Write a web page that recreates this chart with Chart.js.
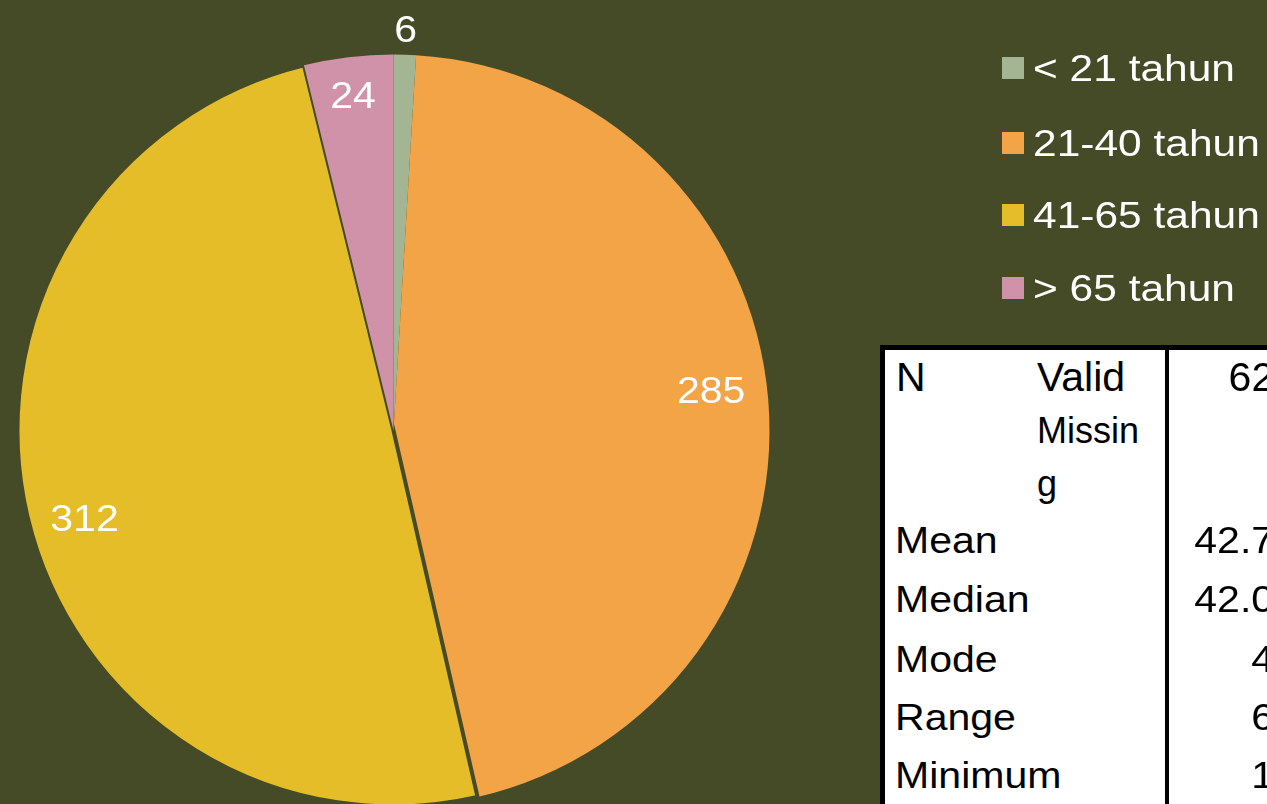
<!DOCTYPE html>
<html>
<head>
<meta charset="utf-8">
<title>Kelompok umur</title>
<script src="https://cdn.jsdelivr.net/npm/chart.js@4/dist/chart.umd.min.js"></script>
<style>
  html, body {
    margin: 0;
    padding: 0;
    width: 1267px;
    height: 804px;
    overflow: hidden;
    background: #454b27;
    font-family: "Liberation Sans", Arial, sans-serif;
  }
  #wrap { position: absolute; left: 0; top: 0; width: 1267px; height: 830px; }
  .swatch { position: absolute; left: 1002px; width: 22px; height: 22px; }
  .txt {
    position: absolute;
    white-space: nowrap;
    transform-origin: left top;
  }
  #stats {
    position: absolute;
    left: 880px;
    top: 345px;
    width: 440px;
    height: 520px;
    background: #ffffff;
    border: 5px solid #000000;
    box-sizing: border-box;
  }
  #stats-divider {
    position: absolute;
    left: 1165px;
    top: 345px;
    width: 4px;
    height: 520px;
    background: #000000;
  }
</style>
</head>
<body>
<div id="wrap"><canvas id="ageChart"></canvas></div>
<div id="legend"></div>
<div id="stats"></div>
<div id="stats-divider"></div>
<div id="stats-text"></div>

<script>
// data
const ageGroups = ['< 21 tahun', '21-40 tahun', '41-65 tahun', '> 65 tahun'];
const respondentCounts = [6, 285, 312, 24];
const sliceColors = ['#a4b594', '#f2a446', '#e4bd28', '#d092a8'];

// SPSS statistics table (values column is cut off by the page edge)
const statNames = ['Mean', 'Median', 'Mode', 'Range', 'Minimum'];
const statValues = ['42.74', '42.00', '40', '62', '17'];
const validN = '627';
const missingN = '0';

const bgColor = '#454b27';
const TEXT_STRETCH = 1.14; // text in the picture is drawn a bit wide
const LEGEND_STRETCH = 1.18;

//  place a line of text so that its baseline lands on y
function placeText(parent, html, x, baseline, size, opts) {
  opts = opts || {};
  const lineH = opts.lineHeight || size;
  const el = document.createElement('div');
  el.className = 'txt';
  el.innerHTML = html;
  el.style.fontSize = size + 'px';
  el.style.lineHeight = lineH + 'px';
  el.style.color = opts.color || '#000';
  // Liberation Sans: ascent .905, descent .212
  const baseOffset = (lineH - size * 1.117) / 2 + size * 0.905;
  el.style.top = (baseline - baseOffset) + 'px';
  const sx = opts.stretch === undefined ? TEXT_STRETCH : opts.stretch;
  if (opts.right) {
    el.style.left = '0px';
    el.style.width = x + 'px';
    el.style.textAlign = 'right';
    el.style.transformOrigin = 'right top';
  } else {
    el.style.left = x + 'px';
  }
  el.style.transform = 'scaleX(' + sx + ')';
  parent.appendChild(el);
}

// legend
const legendEl = document.getElementById('legend');
const legendRows = [68, 143, 215, 288];
ageGroups.forEach((label, i) => {
  const sw = document.createElement('div');
  sw.className = 'swatch';
  sw.style.top = (legendRows[i] - 11) + 'px';
  sw.style.background = sliceColors[i];
  legendEl.appendChild(sw);
  placeText(legendEl, label.replace('<', '&lt;').replace('>', '&gt;'), 1033, legendRows[i] + 13, 36,
    {color: '#ffffff', stretch: LEGEND_STRETCH});
});

// statistics table text
const statsEl = document.getElementById('stats-text');
const valueRight = 1297;
placeText(statsEl, 'N', 896, 392, 41, {stretch: 1});
placeText(statsEl, 'Valid', 1037, 392, 41, {stretch: 1});
placeText(statsEl, validN, valueRight, 392, 41, {stretch: 1, right: true});
placeText(statsEl, 'Missin<br>g', 1037, 443, 36, {lineHeight: 53, stretch: 1});
placeText(statsEl, missingN, valueRight, 443, 36, {right: true});
const statRows = [553, 612, 672, 730, 788];
statNames.forEach((name, i) => {
  placeText(statsEl, name, 895, statRows[i], 36);
  placeText(statsEl, statValues[i], valueRight, statRows[i], 36, {right: true});
});

//  data labels, placed "inside end" like the office chart; tiny slices go outside
const sliceLabels = {
  id: 'sliceLabels',
  afterDatasetsDraw(chart) {
    const {ctx} = chart;
    const meta = chart.getDatasetMeta(0);
    const values = chart.data.datasets[0].data;
    const total = values.reduce((a, b) => a + b, 0);
    ctx.save();
    ctx.font = '36px "Liberation Sans", Arial, sans-serif';
    ctx.fillStyle = '#ffffff';
    ctx.textAlign = 'center';
    ctx.textBaseline = 'alphabetic';
    meta.data.forEach((arc, i) => {
      const {x, y, startAngle, endAngle, outerRadius} =
        arc.getProps(['x', 'y', 'startAngle', 'endAngle', 'outerRadius'], true);
      const mid = (startAngle + endAngle) / 2;
      const dx = Math.cos(mid);
      const dy = Math.sin(mid);
      const text = String(values[i]);
      const w = ctx.measureText(text).width * TEXT_STRETCH;
      const h = 27;
      const extent = w / 2 * Math.abs(dx) + h / 2 * Math.abs(dy);
      const outside = values[i] / total < 0.02;
      const r = outside ? outerRadius + 12 + extent : outerRadius - 22 - extent;
      let lx = x + dx * r;
      let ly = y + dy * r;
      // labels on the left/right sides sit a little further out vertically
      if (!outside && Math.abs(dx) > Math.abs(dy)) {
        ly += Math.sign(dy) * 14;
      }
      ctx.save();
      ctx.translate(lx, ly);
      ctx.scale(TEXT_STRETCH, 1);
      ctx.fillText(text, 0, 13);
      ctx.restore();
    });
    ctx.restore();
  }
};

const ctx = document.getElementById('ageChart').getContext('2d');
// eslint-disable-next-line no-undef
new Chart(ctx, {
  type: 'pie',
  data: {
    labels: ageGroups,
    datasets: [{
      data: respondentCounts,
      backgroundColor: sliceColors,
      borderColor: bgColor,
      borderWidth: [0, 0, 4, 0],
      hoverOffset: 0,
      hoverBorderWidth: [0, 0, 4, 0]
    }]
  },
  options: {
    responsive: true,
    maintainAspectRatio: false,
    animation: false,
    events: [],
    layout: {
      padding: {left: 15.5, top: 52.5, right: 495.5, bottom: 21.5}
    },
    plugins: {
      legend: {display: false},
      tooltip: {enabled: false}
    }
  },
  plugins: [sliceLabels]
});
</script>
</body>
</html>
